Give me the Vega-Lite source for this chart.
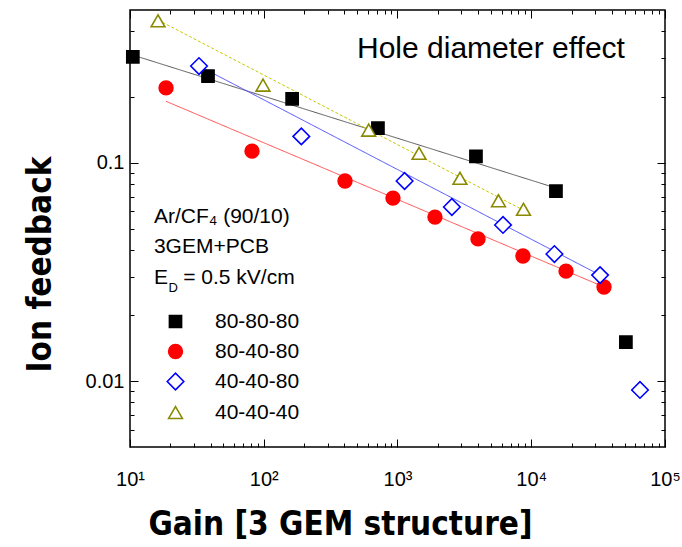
{
  "$schema": "https://vega.github.io/schema/vega-lite/v6.json",
  "width": 535,
  "height": 437,
  "autosize": "none",
  "padding": {"left": 130, "top": 10, "right": 17, "bottom": 100},
  "background": "white",
  "config": {
    "view": {"stroke": "black", "strokeWidth": 1.5},
    "axis": {"grid": false, "domain": false, "tickColor": "black", "labelColor": "black", "titleColor": "black", "labelFont": "Liberation Sans", "tickWidth": 1},
    "font": "Liberation Sans"
  },
  "datasets": {
    "points": [
      {"series": "80-80-80", "gain": 10.5, "ifb": 0.305},
      {"series": "80-80-80", "gain": 38.3, "ifb": 0.249},
      {"series": "80-80-80", "gain": 163, "ifb": 0.196},
      {"series": "80-80-80", "gain": 714, "ifb": 0.144},
      {"series": "80-80-80", "gain": 3860, "ifb": 0.107},
      {"series": "80-80-80", "gain": 15300, "ifb": 0.0742},
      {"series": "80-80-80", "gain": 51000, "ifb": 0.0151},
      {"series": "80-40-80", "gain": 18.6, "ifb": 0.22},
      {"series": "80-40-80", "gain": 81.7, "ifb": 0.113},
      {"series": "80-40-80", "gain": 405, "ifb": 0.0825},
      {"series": "80-40-80", "gain": 925, "ifb": 0.0689},
      {"series": "80-40-80", "gain": 1906, "ifb": 0.0564},
      {"series": "80-40-80", "gain": 4000, "ifb": 0.0448},
      {"series": "80-40-80", "gain": 8670, "ifb": 0.0374},
      {"series": "80-40-80", "gain": 18200, "ifb": 0.0319},
      {"series": "80-40-80", "gain": 35000, "ifb": 0.027},
      {"series": "40-40-80", "gain": 32.8, "ifb": 0.277},
      {"series": "40-40-80", "gain": 191, "ifb": 0.132},
      {"series": "40-40-80", "gain": 1130, "ifb": 0.0825},
      {"series": "40-40-80", "gain": 2550, "ifb": 0.0627},
      {"series": "40-40-80", "gain": 6150, "ifb": 0.0519},
      {"series": "40-40-80", "gain": 14900, "ifb": 0.0382},
      {"series": "40-40-80", "gain": 32700, "ifb": 0.0306},
      {"series": "40-40-80", "gain": 65000, "ifb": 0.00912},
      {"series": "40-40-40", "gain": 16.2, "ifb": 0.446},
      {"series": "40-40-40", "gain": 98.7, "ifb": 0.2265},
      {"series": "40-40-40", "gain": 609, "ifb": 0.141},
      {"series": "40-40-40", "gain": 1449, "ifb": 0.1104},
      {"series": "40-40-40", "gain": 2930, "ifb": 0.0849},
      {"series": "40-40-40", "gain": 5690, "ifb": 0.067},
      {"series": "40-40-40", "gain": 8750, "ifb": 0.0612}
    ],
    "fits": [
      {"fit": "80-80-80", "gain": 10.5, "ifb": 0.311},
      {"fit": "80-80-80", "gain": 15300, "ifb": 0.0766},
      {"fit": "80-40-80", "gain": 18.6, "ifb": 0.191},
      {"fit": "80-40-80", "gain": 35000, "ifb": 0.027},
      {"fit": "40-40-80", "gain": 32.8, "ifb": 0.277},
      {"fit": "40-40-80", "gain": 32700, "ifb": 0.0306},
      {"fit": "40-40-40", "gain": 16.2, "ifb": 0.45},
      {"fit": "40-40-40", "gain": 8670, "ifb": 0.0608}
    ],
    "notes": [
      {"kind": "main", "label": "Ar/CF₄ (90/10)", "gain": 15.1, "ifb": 0.053},
      {"kind": "main", "label": "3GEM+PCB", "gain": 15.1, "ifb": 0.0386},
      {"kind": "main", "label": "E", "gain": 15.1, "ifb": 0.0279},
      {"kind": "main", "label": "= 0.5 kV/cm", "gain": 25, "ifb": 0.0279},
      {"kind": "sub", "label": "D", "gain": 19.4, "ifb": 0.0255},
      {"kind": "title", "label": "Hole diameter effect", "gain": 498, "ifb": 0.302}
    ]
  },
  "resolve": {"axis": {"x": "independent", "y": "independent"}},
  "layer": [
    {
      "data": {"name": "fits"},
      "mark": {"type": "line", "strokeWidth": 1},
      "encoding": {
        "x": {"field": "gain", "type": "quantitative", "scale": {"type": "log", "domain": [10, 100000], "nice": false},
          "axis": {"orient": "bottom", "values": [20,30,40,50,60,70,80,90,200,300,400,500,600,700,800,900,2000,3000,4000,5000,6000,7000,8000,9000,20000,30000,40000,50000,60000,70000,80000,90000], "tickSize": -4, "labels": false, "title": null, "domain": false}},
        "y": {"field": "ifb", "type": "quantitative", "scale": {"type": "log", "domain": [0.005, 0.5], "nice": false},
          "axis": {"orient": "left", "values": [0.006,0.007,0.008,0.009,0.02,0.03,0.04,0.05,0.06,0.07,0.08,0.09,0.2,0.3,0.4], "tickSize": -4, "labels": false, "title": null, "domain": false}},
        "detail": {"field": "fit"},
        "color": {"field": "fit", "type": "nominal", "legend": null,
          "scale": {"range": ["#c8c800", "#4a4aff", "#ff4a4a", "#555555"]}},
        "strokeDash": {"field": "fit", "type": "nominal", "legend": null,
          "scale": {"range": [[3, 2], [1, 0], [1, 0], [1, 0]]}}
      }
    },
    {
      "data": {"name": "points"},
      "mark": {"type": "point", "strokeWidth": 1.6, "opacity": 1, "size": 190},
      "encoding": {
        "x": {"field": "gain", "type": "quantitative", "scale": {"type": "log", "domain": [10, 100000], "nice": false},
          "axis": {"orient": "bottom", "values": [10, 100, 1000, 10000, 100000], "tickSize": -8, "labelPadding": 30, "labelFontSize": 20,
            "labelExpr": "'10' + (datum.value < 50 ? '¹' : datum.value < 500 ? '²' : datum.value < 5000 ? '³' : datum.value < 50000 ? '⁴' : '⁵')",
            "labelFlush": false, "labelOverlap": false, "labelBound": false, "domain": false,
            "title": "Gain [3 GEM structure]", "titleFont": "DejaVu Sans Condensed", "titleFontSize": 33, "titleFontWeight": "bold",
            "titleX": 210, "titleY": 87, "titleAlign": "center", "titleBaseline": "alphabetic"}},
        "y": {"field": "ifb", "type": "quantitative", "scale": {"type": "log", "domain": [0.005, 0.5], "nice": false},
          "axis": {"orient": "left", "values": [0.01, 0.1], "tickSize": -8, "labelPadding": 14, "labelFontSize": 20,
            "labelExpr": "datum.value < 0.05 ? '0.01' : '0.1'", "labelFlush": false, "labelOverlap": false, "labelBound": false, "domain": false,
            "title": "Ion feedback", "titleFont": "DejaVu Sans Condensed", "titleFontSize": 33, "titleFontWeight": "bold",
            "titleAngle": -90, "titleX": -90, "titleY": 254, "titleAlign": "center", "titleBaseline": "middle"}},
        "shape": {"field": "series", "type": "nominal",
          "scale": {"domain": ["80-80-80", "80-40-80", "40-40-80", "40-40-40"], "range": ["M-0.88,-0.88H0.88V0.88H-0.88Z", "circle", "M-1.2,0L0,-1.2L1.2,0L0,1.2Z", "triangle-up"]},
          "legend": {"orient": "none", "legendX": 35, "legendY": 301, "title": null, "symbolSize": 190, "symbolStrokeWidth": 1.6,
            "labelFontSize": 21, "labelFont": "Liberation Sans", "labelColor": "black", "labelOffset": 29, "rowPadding": 8, "padding": 0}},
        "stroke": {"field": "series", "type": "nominal",
          "scale": {"domain": ["80-80-80", "80-40-80", "40-40-80", "40-40-40"], "range": ["black", "#ff0000", "#0000ff", "#8a8a00"]},
          "legend": {"orient": "none", "legendX": 35, "legendY": 301, "title": null, "symbolSize": 190, "symbolStrokeWidth": 1.6,
            "labelFontSize": 21, "labelFont": "Liberation Sans", "labelColor": "black", "labelOffset": 29, "rowPadding": 8, "padding": 0}},
        "fill": {"field": "series", "type": "nominal",
          "scale": {"domain": ["80-80-80", "80-40-80", "40-40-80", "40-40-40"], "range": ["black", "#ff0000", "white", "white"]},
          "legend": {"orient": "none", "legendX": 35, "legendY": 301, "title": null, "symbolSize": 190, "symbolStrokeWidth": 1.6,
            "labelFontSize": 21, "labelFont": "Liberation Sans", "labelColor": "black", "labelOffset": 29, "rowPadding": 8, "padding": 0}}
      }
    },
    {
      "data": {"name": "notes"},
      "transform": [{"filter": "datum.kind == 'main'"}],
      "mark": {"type": "text", "fontSize": 21, "align": "left", "baseline": "alphabetic", "color": "black", "font": "Liberation Sans"},
      "encoding": {
        "x": {"field": "gain", "type": "quantitative", "scale": {"type": "log", "domain": [10, 100000], "nice": false},
          "axis": {"orient": "top", "values": [10, 100, 1000, 10000, 100000], "tickSize": -8, "labels": false, "title": null, "domain": false}},
        "y": {"field": "ifb", "type": "quantitative", "scale": {"type": "log", "domain": [0.005, 0.5], "nice": false},
          "axis": {"orient": "right", "values": [0.01, 0.1], "tickSize": -8, "labels": false, "title": null, "domain": false}},
        "text": {"field": "label"}
      }
    },
    {
      "data": {"name": "notes"},
      "transform": [{"filter": "datum.kind == 'sub'"}],
      "mark": {"type": "text", "fontSize": 13, "align": "left", "baseline": "alphabetic", "color": "black", "font": "Liberation Sans"},
      "encoding": {
        "x": {"field": "gain", "type": "quantitative", "scale": {"type": "log", "domain": [10, 100000], "nice": false},
          "axis": {"orient": "top", "values": [20,30,40,50,60,70,80,90,200,300,400,500,600,700,800,900,2000,3000,4000,5000,6000,7000,8000,9000,20000,30000,40000,50000,60000,70000,80000,90000], "tickSize": -4, "labels": false, "title": null, "domain": false}},
        "y": {"field": "ifb", "type": "quantitative", "scale": {"type": "log", "domain": [0.005, 0.5], "nice": false},
          "axis": {"orient": "right", "values": [0.006,0.007,0.008,0.009,0.02,0.03,0.04,0.05,0.06,0.07,0.08,0.09,0.2,0.3,0.4], "tickSize": -4, "labels": false, "title": null, "domain": false}},
        "text": {"field": "label"}
      }
    },
    {
      "data": {"name": "notes"},
      "transform": [{"filter": "datum.kind == 'title'"}],
      "mark": {"type": "text", "fontSize": 30, "align": "left", "baseline": "alphabetic", "color": "black", "font": "Liberation Sans"},
      "encoding": {
        "x": {"field": "gain", "type": "quantitative", "scale": {"type": "log", "domain": [10, 100000], "nice": false}, "axis": null},
        "y": {"field": "ifb", "type": "quantitative", "scale": {"type": "log", "domain": [0.005, 0.5], "nice": false}, "axis": null},
        "text": {"field": "label"}
      }
    }
  ]
}
